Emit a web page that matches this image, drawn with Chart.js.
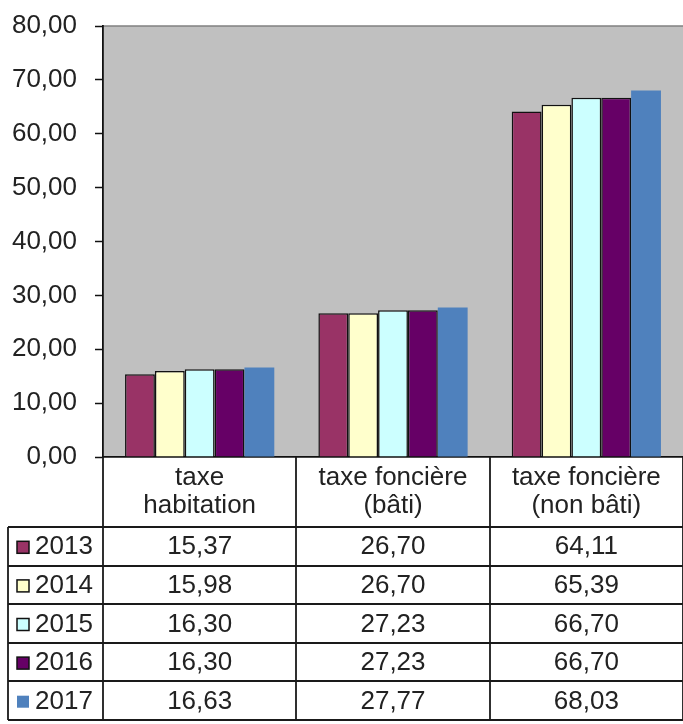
<!DOCTYPE html>
<html>
<head>
<meta charset="utf-8">
<title>Taux d'imposition</title>
<script src="https://cdn.jsdelivr.net/npm/chart.js@4/dist/chart.umd.min.js"></script>
<style>
    html, body { margin: 0; padding: 0; background: #fff; }
    #wrap { width: 683px; height: 724px; position: relative; }
</style>
</head>
<body>
<div id="wrap"><canvas id="taxChart"></canvas></div>
<script>
// Chart data
const categories = [['taxe', 'habitation'], ['taxe foncière', '(bâti)'], ['taxe foncière', '(non bâti)']];
const years = ['2013', '2014', '2015', '2016', '2017'];
const values2013 = [15.37, 26.70, 64.11];
const values2014 = [15.98, 26.70, 65.39];
const values2015 = [16.30, 27.23, 66.70];
const values2016 = [16.30, 27.23, 66.70];
const values2017 = [16.63, 27.77, 68.03];
const yTicks = [0, 10, 20, 30, 40, 50, 60, 70, 80];

const seriesValues = [values2013, values2014, values2015, values2016, values2017];
const seriesColors = ['#993366', '#FFFFCC', '#CCFFFF', '#660066', '#4F81BD'];
const seriesBorders = ['#111', '#111', '#111', '#111', null];

const FONT = '"Liberation Sans", Arial, sans-serif';
const TEXT_COLOR = '#222';

// French number format
function fmt(v) {
    return v.toFixed(2).replace('.', ',');
}

// Gray plot area background
const plotBackground = {
    id: 'plotBackground',
    beforeDraw(chart) {
        const { ctx, chartArea } = chart;
        ctx.save();
        ctx.fillStyle = '#C0C0C0';
        ctx.fillRect(chartArea.left, chartArea.top, chartArea.right - chartArea.left, chartArea.bottom - chartArea.top);
        ctx.strokeStyle = '#808080';
        ctx.lineWidth = 1.5;
        ctx.beginPath();
        ctx.moveTo(chartArea.left, chartArea.top);
        ctx.lineTo(chartArea.right, chartArea.top);
        ctx.stroke();
        ctx.restore();
    }
};

// Data table under the chart
const dataTable = {
    id: 'dataTable',
    afterDraw(chart) {
        const { ctx } = chart;
        const x = chart.scales.x;
        const top = chart.chartArea.bottom;
        const headerH = 70;
        const rowH = 38.6;
        const legendLeft = 8;
        const colW = (x.right - x.left) / categories.length;
        const rowsTop = top + headerH;
        const bottom = rowsTop + rowH * years.length;

        ctx.save();
        ctx.strokeStyle = '#1a1a1a';
        ctx.lineWidth = 1.8;
        ctx.beginPath();
        // vertical lines
        for (let i = 0; i <= categories.length; i++) {
            const cx = Math.round(x.left + i * colW);
            ctx.moveTo(cx, top);
            ctx.lineTo(cx, bottom);
        }
        ctx.moveTo(legendLeft, rowsTop);
        ctx.lineTo(legendLeft, bottom);
        // horizontal lines
        for (let r = 0; r <= years.length; r++) {
            const y = Math.round(rowsTop + r * rowH);
            ctx.moveTo(legendLeft, y);
            ctx.lineTo(x.right, y);
        }
        ctx.stroke();

        ctx.fillStyle = TEXT_COLOR;
        ctx.font = '26px ' + FONT;
        ctx.textAlign = 'center';
        ctx.textBaseline = 'middle';

        // header labels
        categories.forEach((lines, i) => {
            const cx = x.left + (i + 0.5) * colW;
            ctx.fillText(lines[0], cx, top + 21);
            ctx.fillText(lines[1], cx, top + 49);
        });

        // rows
        years.forEach((yr, r) => {
            const cy = rowsTop + (r + 0.5) * rowH + 1;
            // legend key
            ctx.fillStyle = seriesColors[r];
            ctx.fillRect(17, cy - 6, 12, 12);
            if (seriesBorders[r]) {
                ctx.strokeStyle = '#111';
                ctx.lineWidth = 1.5;
                ctx.strokeRect(17, cy - 6, 12, 12);
            }
            ctx.fillStyle = TEXT_COLOR;
            ctx.textAlign = 'left';
            ctx.fillText(yr, 35, cy);
            ctx.textAlign = 'center';
            seriesValues[r].forEach((v, i) => {
                ctx.fillText(fmt(v), x.left + (i + 0.5) * colW, cy);
            });
        });
        ctx.restore();
    }
};

const ctx = document.getElementById('taxChart');

new Chart(ctx, {
    type: 'bar',
    data: {
        labels: categories,
        datasets: years.map((yr, i) => ({
            label: yr,
            data: seriesValues[i],
            backgroundColor: seriesColors[i],
            borderColor: seriesBorders[i] || seriesColors[i],
            borderWidth: seriesBorders[i] ? 1.5 : 0,
            borderSkipped: 'bottom',
            categoryPercentage: 0.772,
            barPercentage: 1.0
        }))
    },
    options: {
        responsive: true,
        maintainAspectRatio: false,
        animation: false,
        layout: {
            padding: { top: 26, right: -3, bottom: 267, left: 0 }
        },
        plugins: {
            legend: { display: false },
            tooltip: { enabled: false }
        },
        scales: {
            x: {
                grid: { display: false },
                ticks: { display: false },
                border: { display: true, color: '#111', width: 1.8 },
                afterFit(scale) { scale.height = 0; }
            },
            y: {
                min: yTicks[0],
                max: yTicks[yTicks.length - 1],
                afterBuildTicks(scale) {
                    scale.ticks = yTicks.map(v => ({ value: v }));
                },
                afterFit(scale) {
                    scale.width = 103;
                    scale.paddingTop = 0;
                    scale.paddingBottom = 0;
                },
                grid: {
                    drawOnChartArea: false,
                    drawTicks: true,
                    tickLength: 8,
                    tickColor: '#111',
                    tickWidth: 1.5
                },
                border: { display: true, color: '#111', width: 1.8 },
                ticks: {
                    padding: 18,
                    color: TEXT_COLOR,
                    font: { family: FONT, size: 26 },
                    callback: (v) => fmt(v)
                }
            }
        }
    },
    plugins: [plotBackground, dataTable]
});
</script>
</body>
</html>
